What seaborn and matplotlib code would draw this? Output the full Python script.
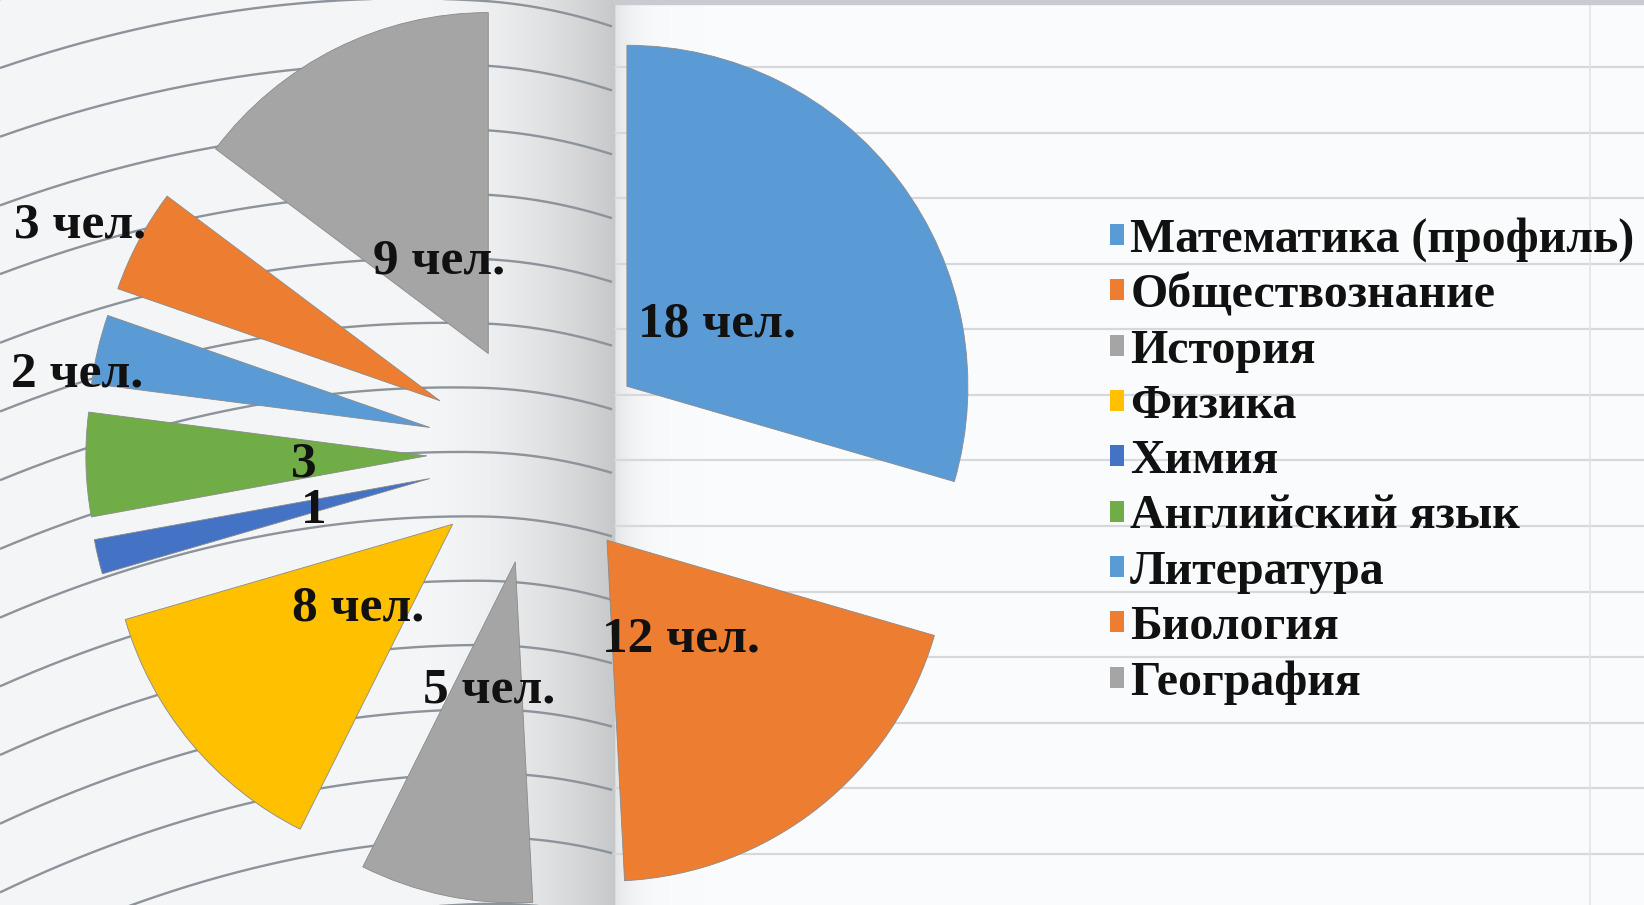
import numpy as np
import matplotlib
matplotlib.use("Agg")
import matplotlib.pyplot as plt
import seaborn as sns

# ---- data ----
subjects = ["Математика (профиль)", "Обществознание", "История", "Физика", "Химия",
            "Английский язык", "Литература", "Биология", "География"]
counts = [18, 12, 5, 8, 1, 3, 2, 3, 9]
value_labels = ["18 чел.", "12 чел.", "5 чел.", "8 чел.", "1", "3", "2 чел.", "3 чел.", "9 чел."]
colors = ["#5B9BD5", "#ED7D31", "#A5A5A5", "#FFC000", "#4472C4",
          "#70AD47", "#5B9BD5", "#ED7D31", "#A5A5A5"]
# label placement style (radius as fraction of pie radius, angular nudge in degrees)
label_radius = [0.33, 0.35, 0.37, 0.36, 0.35, 0.36, 1.05, 1.18, 0.32]
label_nudge = [0, 0, 0, 0, 0, 0, 3.8, 1.4, 0]

sns.set_theme(style="white")
plt.rcParams['font.family'] = ['Liberation Serif', 'DejaVu Serif']

W, H = 1644, 905
fig = plt.figure(figsize=(W / 100, H / 100), dpi=100)
ax = fig.add_axes([0, 0, 1, 1])

# ---- notebook background ----
fold = 615
x = np.arange(W, dtype=float)
shade = np.clip((x - 420) / (fold - 420), 0, 1)
left = 0.962 - 0.18 * shade ** 1.8
right = 0.985 - 0.09 * np.exp(-np.clip(x - fold, 0, None) / 18.0)
col = np.where(x < fold, left, right)
img = np.tile(col, (H, 1))
rgb = np.dstack([img * 0.995, img, np.clip(img * 1.006, 0, 1)])
ax.imshow(rgb, extent=(0, W, 0, H), origin='upper', aspect='auto', zorder=0,
          interpolation='bilinear')

xs = np.linspace(0, fold - 3, 400)
for k in range(-2, 15):
    y0 = 68 + 68.7 * k
    frac = np.clip(y0 / H, 0, 1.1)
    a = 0.33 + 0.15 * frac
    xp = 400 + 100 * frac
    b = a / (2 * xp)
    yd = y0 - a * xs + b * xs ** 2 + 0.0006 * np.clip(xs - 480, 0, None) ** 2
    ax.plot(xs, H - yd, color='#8c939a', lw=1.7, zorder=1, solid_capstyle='butt')

for yy in np.arange(2, H, 65.5):
    ax.plot([fold, W], [H - yy, H - yy], color='#d6d9dc', lw=1.6, zorder=1)
ax.plot([1590, 1590], [0, H], color='#e1e3e5', lw=1.2, zorder=1)
ax.fill_between([fold, W], H - 4, H, color='#c8cbcf', zorder=1)

# ---- pie ----
R = 341
EXPLODE = 0.326 * R
wedges, _ = ax.pie(counts, colors=colors, startangle=90, counterclock=False,
                   radius=R, center=(538, 452), explode=[EXPLODE] * len(counts),
                   frame=True,
                   wedgeprops=dict(edgecolor='#8a8a8a', linewidth=0.6, zorder=3))

for w, lab, rd, nd in zip(wedges, value_labels, label_radius, label_nudge):
    th = np.deg2rad((w.theta1 + w.theta2) / 2 + nd)
    cx, cy = w.center
    ax.text(cx + rd * R * np.cos(th), cy + rd * R * np.sin(th), lab,
            ha='center', va='center_baseline', fontsize=37, fontweight='bold',
            color='#111111', zorder=5)

leg = ax.legend(wedges, subjects, loc='upper left',
                bbox_to_anchor=(1110 / W, 1 - 217 / H), frameon=False,
                prop=dict(family='Liberation Serif', weight='bold', size=34.5),
                handlelength=0.3, handleheight=0.3, handletextpad=0.12,
                labelspacing=0.236, borderpad=0, borderaxespad=0)
for t in leg.get_texts():
    t.set_color('#111111')
for hnd in leg.legend_handles:
    hnd.set_edgecolor('none')

ax.set_xlim(0, W)
ax.set_ylim(0, H)
ax.set_aspect('auto')
ax.axis('off')

fig.savefig('out.png', dpi=100)
